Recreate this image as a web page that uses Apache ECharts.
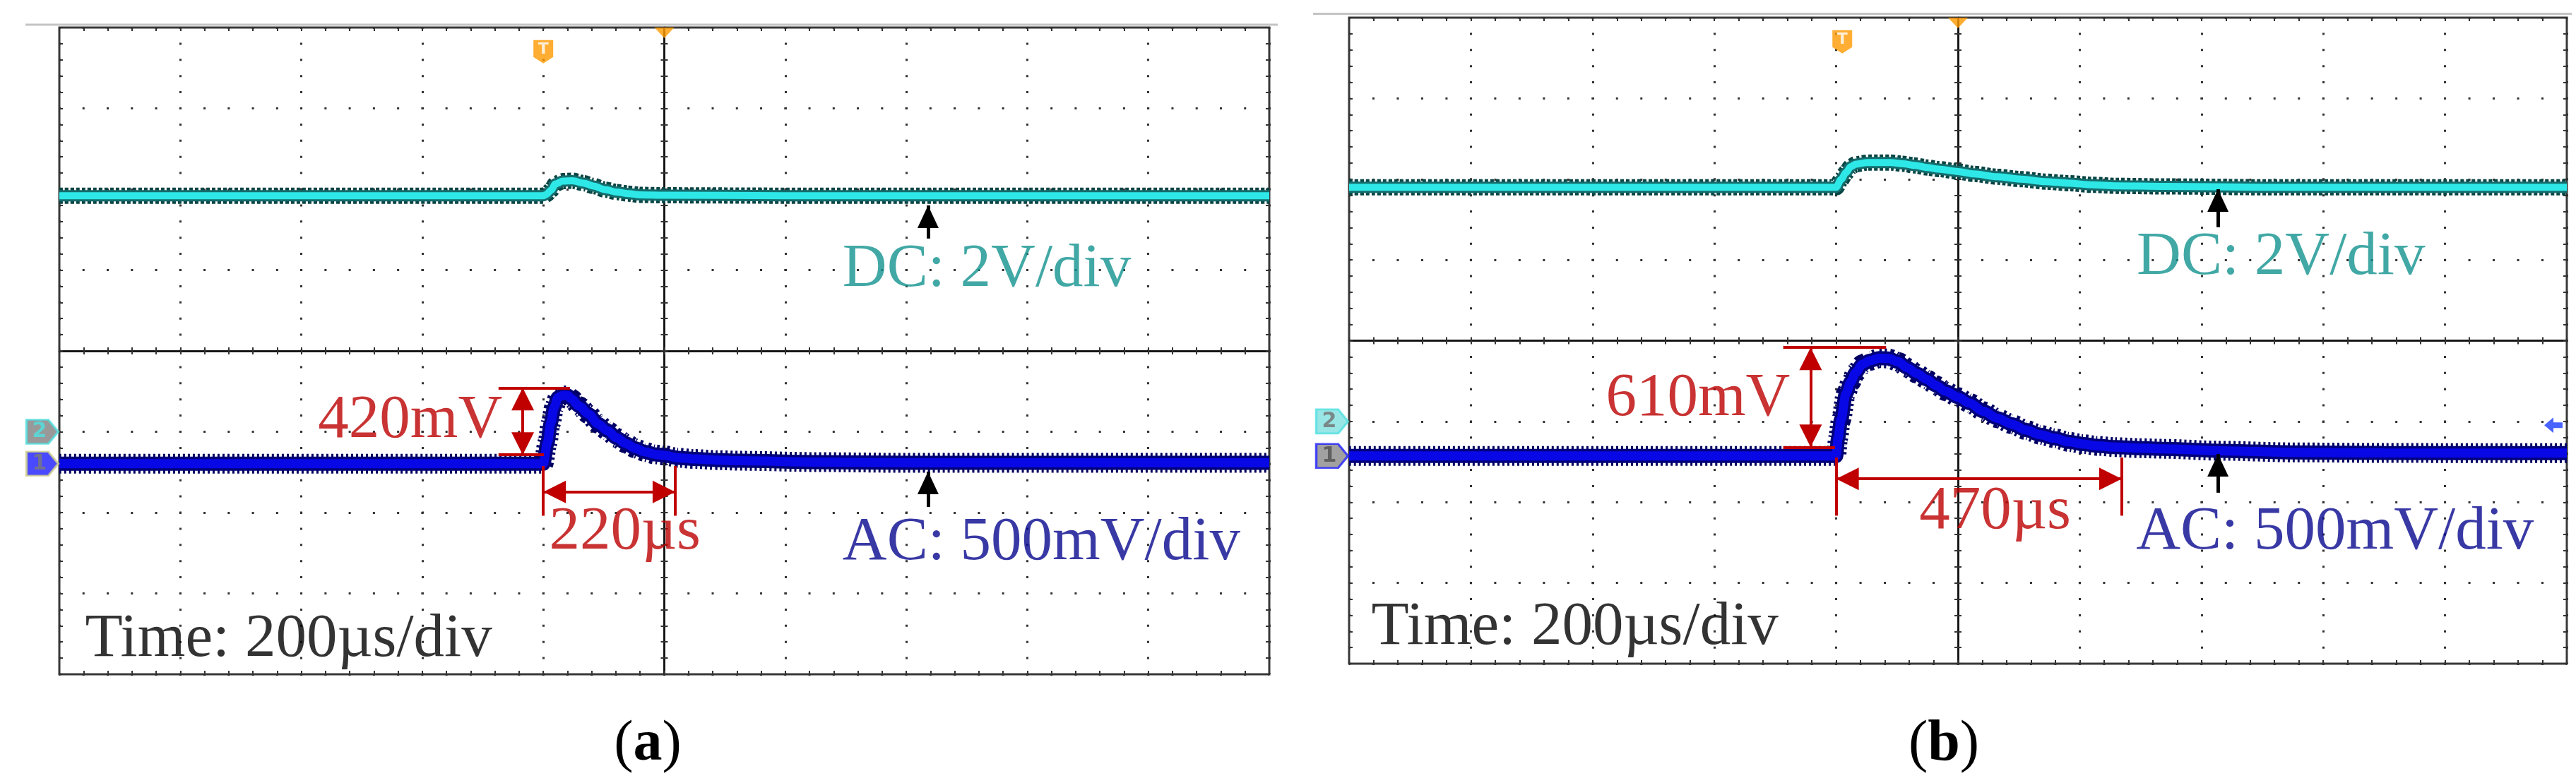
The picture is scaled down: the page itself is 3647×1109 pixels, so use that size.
<!DOCTYPE html>
<html>
<head>
<meta charset="utf-8">
<script src="https://cdn.jsdelivr.net/npm/echarts@6/dist/echarts.min.js"></script>
<style>
html,body{margin:0;padding:0;background:#fff;}
#c{width:3647px;height:1109px;}
</style>
</head>
<body>
<div id="c"></div>
<script>
// Time axis: 200 µs/div, 10 divisions, centre = 0 µs
const timeRangeUs = [-1000, 1000];
const timeStepUs = 200;
const divRange = [-4, 4];           // 8 vertical divisions

// ---- Panel (a) ----
const dcTimeA = [-1000,-200,-195,-187,-180,-168,-152,-133,-117,-98,-79,-59,-40,0,200,1000];
const dcVoltA = [5.84,5.84,5.87,5.98,6.13,6.20,6.21,6.15,6.08,5.99,5.93,5.89,5.86,5.85,5.84,5.84];
const acTimeA = [-1000,-200,-193,-188,-182,-176,-168,-160,-153,-141,-125,-110,-94,-79,-63,-48,-32,-16,0,23,50,89,128,250,400,1000];
const acMilliVoltA = [0,0,131,247,349,408,422,422,400,357,306,247,204,160,124,95,73,58,51,36,29,22,18,10,5,5];

// ---- Panel (b) ----
const dcTimeB = [-1000,-200,-192,-184,-176,-168,-149,-129,-110,-90,-71,-51,-32,0,26,65,104,143,182,221,260,338,500,1000];
const dcVoltB = [5.80,5.80,5.99,6.16,6.31,6.37,6.41,6.41,6.41,6.38,6.34,6.29,6.25,6.19,6.13,6.06,6.00,5.94,5.90,5.86,5.835,5.82,5.80,5.80];
const acTimeB = [-1000,-200,-197,-192,-184,-176,-168,-157,-145,-129,-114,-98,-83,-67,-51,-36,-20,0,19,42,65,89,112,135,159,182,206,229,260,299,338,430,550,700,1000];
const acMilliVoltB = [0,0,109,225,385,458,516,567,589,605,603,582,545,509,473,436,400,364,327,276,233,196,160,131,109,87,73,62,54,48,44,32,22,18,17];

// Channel settings (volts/div and ground position in divisions)
const dcVoltsPerDiv = 2;
const acMilliVoltsPerDiv = 500;
const dcGroundDiv = [-1.0, -1.0];
const acGroundDiv = [-1.395, -1.427];
const triggerUs = [-200, -190];

// Measurement annotations  [startUs, arrowUs, peakLineEndUs, baseLineEndUs, baseMv, peakMv]
const ampMeasureA = [-274, -234, -156, -199, 55, 469];
const ampMeasureB = [-287, -242, -118, -202, 54, 671];
// [fromUs, toUs, arrowMv, barTopMv, barBottomMv]
const timeMeasureA = [-200, 18, -175, -14, -322];
const timeMeasureB = [-200, 269, -142, -10, -370];
// Pointer arrows [us, dcTailV, dcTipV, acTailMv, acTipMv]
const pointerA = [436, 4.78, 5.60, -268, -49];
const pointerB = [427, 4.81, 5.75, -228, 12];

// Texts
const scaleTexts = ['DC: 2V/div', 'AC: 500mV/div', 'Time: 200µs/div'];
const peakTexts = ['420mV', '610mV'];
const durationTexts = ['220µs', '470µs'];
const captionLetters = ['a', 'b'];
// text anchor points [us, div]: DC label, AC label, Time label, peak text (right edge), duration text
const textPosA = [[294, 1.0], [294, -2.376], [-958, -3.572], [-267, -0.865], [-191, -2.245]];
const textPosB = [[293, 1.027], [292, -2.373], [-964, -3.553], [-275, -0.721], [-64, -2.12]];

// ================= LAYOUT / STYLE =================
const FONT = 'Liberation Serif';
const panels = [
  { grid: {left: 84, top: 39, width: 1713, height: 916},
    dcT: dcTimeA, dcV: dcVoltA, acT: acTimeA, acV: acMilliVoltA,
    amp: ampMeasureA, tm: timeMeasureA, ptr: pointerA, txt: textPosA,
    topRule: [36, 35, 1809], caption: [917, 1055],
    ch2: {fill: '#7f7f7f', border: '#50e0e0', text: '#50e0e0'},
    ch1: {fill: '#1b1bff', border: '#d2d28c', text: '#7a7a7a'},
    rightArrow: false },
  { grid: {left: 1910, top: 25, width: 1724, height: 915},
    dcT: dcTimeB, dcV: dcVoltB, acT: acTimeB, acV: acMilliVoltB,
    amp: ampMeasureB, tm: timeMeasureB, ptr: pointerB, txt: textPosB,
    topRule: [1859, 19.5, 3641], caption: [2752, 1055],
    ch2: {fill: '#7fe0e0', border: '#50e0e0', text: '#707070'},
    ch1: {fill: '#8a8a8a', border: '#2020ff', text: '#505050'},
    rightArrow: true }
];

const option = {
  animation: false,
  backgroundColor: '#ffffff',
  grid: [], xAxis: [], yAxis: [], series: [], graphic: []
};

const tickColor = '#333333';
function tickCfg() {
  return {
    axisTick: {show: true, inside: true, length: 5, lineStyle: {color: tickColor, width: 2}},
    minorTick: {show: true, splitNumber: 5, length: 5, lineStyle: {color: tickColor, width: 2}}
  };
}

function endSym(on, color, size) {
  return on ? {symbol: 'triangle', symbolSize: size, symbolOffset: [0, '50%'], itemStyle: {color: color}}
            : {symbol: 'none'};
}
function seg(x1, y1, x2, y2, color, width, a1, a2, size) {
  return [
    Object.assign({coord: [x1, y1], lineStyle: {color: color, width: width, type: 'solid'}}, endSym(a1, color, size)),
    Object.assign({coord: [x2, y2]}, endSym(a2, color, size))
  ];
}

panels.forEach(function (p, g) {
  const xi = 4 * g, yi = 6 * g;
  option.grid.push(Object.assign({show: true, borderColor: '#383838', borderWidth: 3,
    backgroundColor: 'transparent', outerBoundsMode: 'none', containLabel: false}, p.grid));
  const dotAlongY = p.grid.height / 8 * 0.2;
  const dotAlongX = p.grid.width / 10 * 0.2;
  const xBase = {type: 'value', gridIndex: g, min: timeRangeUs[0], max: timeRangeUs[1], interval: timeStepUs,
    axisLabel: {show: false}, splitLine: {show: false}, minorSplitLine: {show: false}};
  // bottom border
  option.xAxis.push(Object.assign({}, xBase, tickCfg(), {position: 'bottom',
    axisLine: {show: false, onZero: false},
    splitLine: {show: true, lineStyle: {color: tickColor, width: 3, type: [3, dotAlongY - 3], dashOffset: 1.5}}}));
  // top border
  option.xAxis.push(Object.assign({}, xBase, tickCfg(), {position: 'top', axisLine: {show: false, onZero: false}}));
  // centre line (ticks up / down)
  ['bottom', 'top'].forEach(function (pos) {
    option.xAxis.push(Object.assign({}, xBase, tickCfg(), {position: pos,
      axisLine: {show: true, onZero: true, onZeroAxisIndex: yi, lineStyle: {color: '#111', width: 2.5}}}));
  });
  const yBase = {type: 'value', gridIndex: g, min: divRange[0], max: divRange[1], interval: 1,
    axisLabel: {show: false}, splitLine: {show: false}, minorSplitLine: {show: false}};
  option.yAxis.push(Object.assign({}, yBase, tickCfg(), {position: 'left',
    axisLine: {show: false, onZero: false},
    splitLine: {show: true, lineStyle: {color: tickColor, width: 3, type: [3, dotAlongX - 3], dashOffset: 1.5}}}));
  option.yAxis.push(Object.assign({}, yBase, tickCfg(), {position: 'right', axisLine: {show: false, onZero: false}}));
  ['left', 'right'].forEach(function (pos) {
    option.yAxis.push(Object.assign({}, yBase, tickCfg(), {position: pos,
      axisLine: {show: true, onZero: true, onZeroAxisIndex: xi, lineStyle: {color: '#111', width: 2.5}}}));
  });
  // hidden physical axes
  option.yAxis.push({type: 'value', gridIndex: g, show: false,
    min: (divRange[0] - dcGroundDiv[g]) * dcVoltsPerDiv, max: (divRange[1] - dcGroundDiv[g]) * dcVoltsPerDiv});
  option.yAxis.push({type: 'value', gridIndex: g, show: false,
    min: (divRange[0] - acGroundDiv[g]) * acMilliVoltsPerDiv, max: (divRange[1] - acGroundDiv[g]) * acMilliVoltsPerDiv});
  const yDC = yi + 4, yAC = yi + 5;

  const dcData = p.dcT.map(function (t, i) { return [t, p.dcV[i]]; });
  const acData = p.acT.map(function (t, i) { return [t, p.acV[i]]; });
  const common = {type: 'line', xAxisIndex: xi, showSymbol: false, symbol: 'none', silent: true,
    smooth: 0.3, smoothMonotone: 'x', clip: true, z: 3};

  // DC trace (thick noisy band look)
  option.series.push(Object.assign({}, common, {name: 'DC' + g + 'o', yAxisIndex: yDC, data: dcData,
    lineStyle: {color: '#0a4444', width: 23, type: [5, 3]}}));
  option.series.push(Object.assign({}, common, {name: 'DC' + g + 'm', yAxisIndex: yDC, data: dcData,
    lineStyle: {color: '#156c6c', width: 16}}));
  option.series.push(Object.assign({}, common, {name: 'DC' + g, yAxisIndex: yDC, data: dcData,
    lineStyle: {color: '#2ee8e8', width: 10},
    markLine: {silent: true, animation: false, label: {show: false}, symbol: ['none', 'none'], z: 6,
      data: [seg(p.ptr[0], p.ptr[1], p.ptr[0], p.ptr[2], '#000', 5, false, true, [30, 32])]}}));

  // AC trace
  option.series.push(Object.assign({}, common, {name: 'AC' + g + 'o', yAxisIndex: yAC, data: acData,
    lineStyle: {color: '#000060', width: 28, type: [3, 4]}}));
  option.series.push(Object.assign({}, common, {name: 'AC' + g + 'm', yAxisIndex: yAC, data: acData,
    lineStyle: {color: '#00007a', width: 20}}));
  const a = p.amp, tm = p.tm, red = '#c00000';
  option.series.push(Object.assign({}, common, {name: 'AC' + g, yAxisIndex: yAC, data: acData,
    lineStyle: {color: '#0808e6', width: 13},
    markLine: {silent: true, animation: false, label: {show: false}, symbol: ['none', 'none'], z: 6,
      data: [
        seg(a[0], a[5], a[2], a[5], red, 4, false, false, 0),
        seg(a[0], a[4], a[3], a[4], red, 4, false, false, 0),
        seg(a[1], a[4], a[1], a[5], red, 4, true, true, [32, 32]),
        seg(tm[0], tm[3], tm[0], tm[4], red, 4, false, false, 0),
        seg(tm[1], tm[3], tm[1], tm[4], red, 4, false, false, 0),
        seg(tm[0], tm[2], tm[1], tm[2], red, 4, true, true, [32, 32]),
        seg(p.ptr[0], p.ptr[3], p.ptr[0], p.ptr[4], '#000', 5, false, true, [30, 32])
      ]}}));

  // Trigger markers (div axis)
  option.series.push({type: 'scatter', xAxisIndex: xi, yAxisIndex: yi, clip: false, silent: true, z: 7,
    data: [
      {value: [triggerUs[g], 3.7], symbol: 'path://M0,0 L28,0 L28,24 L14,33 L0,24 Z', symbolSize: [28, 33],
        itemStyle: {color: '#ff9a00'},
        label: {show: true, position: 'inside', formatter: 'T', color: '#fff', fontSize: 22, fontWeight: 'bold',
          fontFamily: 'DejaVu Sans', offset: [0, -3]}},
      {value: [0, divRange[1]], symbol: 'path://M0,0 L28,0 L14,15 Z', symbolSize: [28, 15], symbolOffset: [0, 7.5],
        itemStyle: {color: '#ff9a00'}}
    ]});
  // Channel ground markers
  const chShape = 'path://M0,0 L31,0 L45,17 L31,34 L0,34 Z';
  option.series.push({type: 'scatter', xAxisIndex: xi, yAxisIndex: yDC, clip: false, silent: true, z: 7,
    data: [{value: [timeRangeUs[0], 0], symbol: chShape, symbolSize: [45, 34], symbolOffset: [-24, 0],
      itemStyle: {color: p.ch2.fill, borderColor: p.ch2.border, borderWidth: 3},
      label: {show: true, position: 'inside', formatter: '2', color: p.ch2.text, fontSize: 30,
        fontFamily: 'DejaVu Sans', fontWeight: 'bold', offset: [-4, 0]}}]});
  const acMarks = [{value: [timeRangeUs[0], 0], symbol: chShape, symbolSize: [45, 34], symbolOffset: [-24, 0],
      itemStyle: {color: p.ch1.fill, borderColor: p.ch1.border, borderWidth: 3},
      label: {show: true, position: 'inside', formatter: '1', color: p.ch1.text, fontSize: 30,
        fontFamily: 'DejaVu Sans', fontWeight: 'bold', offset: [-4, 0]}}];
  if (p.rightArrow) {
    acMarks.push({value: [timeRangeUs[1], 190], symbol: 'path://M0,11 L13,0 L13,7 L26,7 L26,15 L13,15 L13,22 Z',
      symbolSize: [26, 22], symbolOffset: [-19, 0], itemStyle: {color: '#1c3cff'}});
  }
  option.series.push({type: 'scatter', xAxisIndex: xi, yAxisIndex: yAC, clip: false, silent: true, z: 7, data: acMarks});

  // Texts
  const t = p.txt;
  const textItems = [
    [t[0], scaleTexts[0], '#12928f', 'right'],
    [t[1], scaleTexts[1], '#08088e', 'right'],
    [t[2], scaleTexts[2], '#000000', 'right'],
    [t[3], peakTexts[g], '#bb0000', 'left'],
    [t[4], durationTexts[g], '#bb0000', 'right']
  ];
  option.series.push({type: 'scatter', xAxisIndex: xi, yAxisIndex: yi, clip: false, silent: true, z: 8,
    symbolSize: 1, itemStyle: {color: 'transparent'},
    data: textItems.map(function (it) {
      return {value: it[0], label: {show: true, position: it[3], distance: 0, formatter: it[1], color: it[2],
        fontSize: 87, fontFamily: FONT}};
    })});

  // decorations: top rule and caption
  option.graphic.push({type: 'line', silent: true,
    shape: {x1: p.topRule[0], y1: p.topRule[1], x2: p.topRule[2], y2: p.topRule[1]},
    style: {stroke: '#c4c4c4', lineWidth: 3}});
  option.graphic.push({type: 'text', silent: true, x: p.caption[0], y: p.caption[1],
    style: {text: '{p|(}{b|' + captionLetters[g] + '}{p|)}', align: 'center', verticalAlign: 'middle',
      rich: {p: {fontFamily: FONT, fontSize: 82, fill: '#000'},
             b: {fontFamily: FONT, fontSize: 82, fontWeight: 'bold', fill: '#000'}}}});
});

const chart = echarts.init(document.getElementById('c'), null, {renderer: 'canvas', width: 3647, height: 1109});
chart.setOption(option);
</script>
</body>
</html>
